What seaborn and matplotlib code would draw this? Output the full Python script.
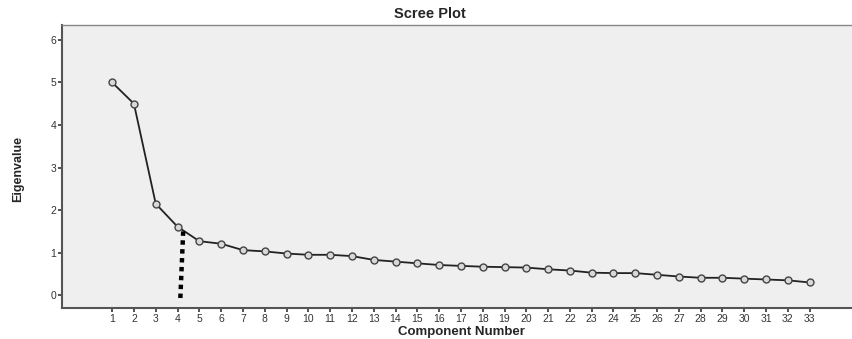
import numpy as np
import pandas as pd
import matplotlib
matplotlib.use("Agg")
import matplotlib.pyplot as plt
import seaborn as sns

# data
components = list(range(1, 34))
eigenvalues = [5.00, 4.50, 2.15, 1.61, 1.27, 1.21, 1.06, 1.03, 0.98, 0.95,
               0.95, 0.92, 0.83, 0.79, 0.75, 0.71, 0.69, 0.67, 0.66, 0.65,
               0.61, 0.58, 0.53, 0.52, 0.52, 0.48, 0.44, 0.41, 0.41, 0.39,
               0.37, 0.35, 0.30]
elbow_x = [4.26, 4.12]
elbow_y = [1.50, -0.17]
y_ticks = [0, 1, 2, 3, 4, 5, 6]

df = pd.DataFrame({"Component Number": components, "Eigenvalue": eigenvalues})

sns.set_style("white")
plt.rcParams["font.family"] = ["Liberation Sans", "DejaVu Sans"]

fig = plt.figure(figsize=(8.53, 3.39), dpi=100)
ax = fig.add_axes([62 / 853, 31 / 339, 800 / 853, 283 / 339])
ax.set_facecolor("#efefef")

sns.lineplot(data=df, x="Component Number", y="Eigenvalue", ax=ax,
             color="#222222", linewidth=1.3, marker="o", markersize=5,
             markerfacecolor="#d8d8d8", markeredgecolor="#444444",
             markeredgewidth=1.0)

# elbow marker
ax.plot(elbow_x, elbow_y, color="black", linestyle=(0, (1, 1)), linewidth=3.2)

ax.set_xlim(-1.3, 35.4)
ax.set_ylim(-0.30, 6.35)
ax.set_xticks(components)
ax.set_yticks(y_ticks)
ax.tick_params(axis="both", labelsize=7.5, colors="#333333", length=3,
               width=1.2, direction="out", pad=1, bottom=True, left=True)

for side in ["left", "bottom"]:
    ax.spines[side].set_color("#555555")
    ax.spines[side].set_linewidth(1.5)
ax.spines["top"].set_color("#888888")
ax.spines["top"].set_linewidth(1.0)
ax.spines["right"].set_visible(False)

ax.set_xlabel("")
ax.set_ylabel("")
fig.text(18 / 853, 170 / 339, "Eigenvalue", rotation=90, ha="center",
         va="center", fontsize=9, fontweight="bold")
fig.text(461 / 853, 1 - 332 / 339, "Component Number", ha="center",
         va="center", fontsize=9.5, fontweight="bold")
fig.text(430 / 853, 1 - 14 / 339, "Scree Plot", ha="center", va="center",
         fontsize=10.5, fontweight="bold")

fig.savefig("out.png", dpi=100)
